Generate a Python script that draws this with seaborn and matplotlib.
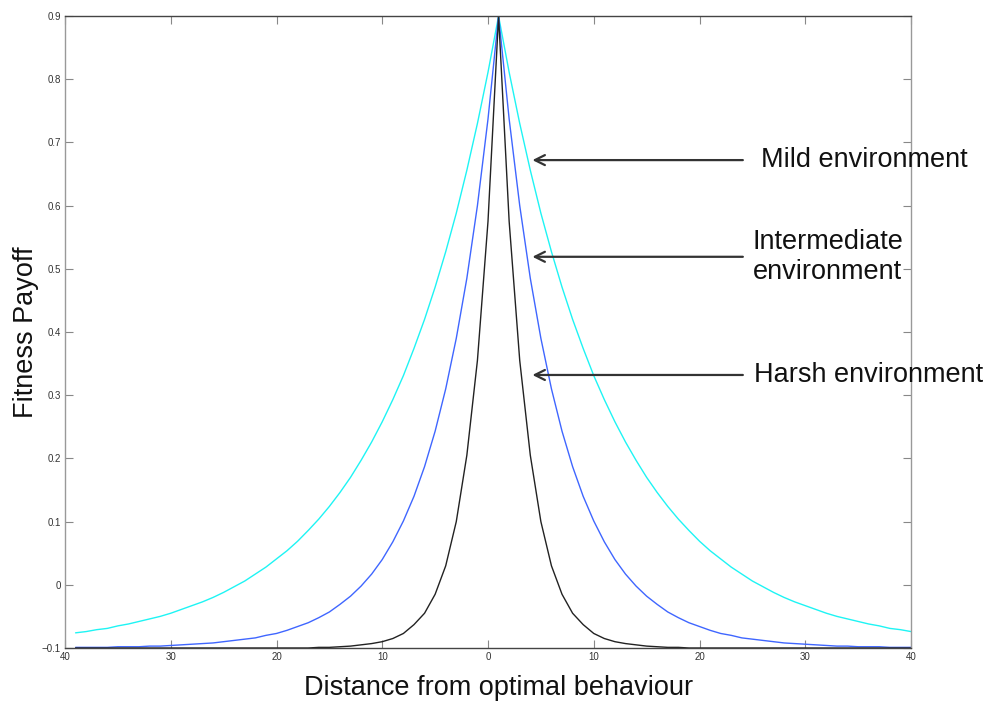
import matplotlib
matplotlib.use("Agg")
import matplotlib.pyplot as plt
import seaborn as sns
import pandas as pd

# ---- data (x = -39 ... 40, peak at x = 1) ----
x_vals = list(range(-39, 41))

mild = [-0.076, -0.074, -0.071, -0.069, -0.065, -0.062, -0.058, -0.054, -0.050, -0.045,
        -0.039, -0.033, -0.027, -0.020, -0.012, -0.003, 0.006, 0.017, 0.028, 0.041,
        0.054, 0.069, 0.086, 0.104, 0.124, 0.146, 0.170, 0.197, 0.226, 0.258,
        0.293, 0.331, 0.374, 0.420, 0.471, 0.527, 0.588, 0.656, 0.730, 0.811,
        0.900,
        0.811, 0.730, 0.656, 0.588, 0.527, 0.471, 0.420, 0.374, 0.331, 0.293,
        0.258, 0.226, 0.197, 0.170, 0.146, 0.124, 0.104, 0.086, 0.069, 0.054,
        0.041, 0.028, 0.017, 0.006, -0.003, -0.012, -0.020, -0.027, -0.033, -0.039,
        -0.045, -0.050, -0.054, -0.058, -0.062, -0.065, -0.069, -0.071, -0.074]

intermediate = [-0.099, -0.099, -0.099, -0.099, -0.098, -0.098, -0.098, -0.097, -0.097, -0.096,
                -0.095, -0.094, -0.093, -0.092, -0.090, -0.088, -0.086, -0.084, -0.080, -0.077,
                -0.072, -0.066, -0.060, -0.052, -0.043, -0.031, -0.018, -0.002, 0.017, 0.040,
                0.068, 0.101, 0.140, 0.187, 0.243, 0.310, 0.390, 0.485, 0.600, 0.737,
                0.900,
                0.737, 0.600, 0.485, 0.390, 0.310, 0.243, 0.187, 0.140, 0.101, 0.068,
                0.040, 0.017, -0.002, -0.018, -0.031, -0.043, -0.052, -0.060, -0.066, -0.072,
                -0.077, -0.080, -0.084, -0.086, -0.088, -0.090, -0.092, -0.093, -0.094, -0.095,
                -0.096, -0.097, -0.097, -0.098, -0.098, -0.098, -0.099, -0.099, -0.099]

harsh = [-0.100, -0.100, -0.100, -0.100, -0.100, -0.100, -0.100, -0.100, -0.100, -0.100,
         -0.100, -0.100, -0.100, -0.100, -0.100, -0.100, -0.100, -0.100, -0.100, -0.100,
         -0.100, -0.100, -0.100, -0.099, -0.099, -0.098, -0.097, -0.095, -0.093, -0.090,
         -0.085, -0.077, -0.063, -0.045, -0.015, 0.030, 0.100, 0.205, 0.355, 0.575,
         0.900,
         0.575, 0.355, 0.205, 0.100, 0.030, -0.015, -0.045, -0.063, -0.077, -0.085,
         -0.090, -0.093, -0.095, -0.097, -0.098, -0.099, -0.099, -0.100, -0.100, -0.100,
         -0.100, -0.100, -0.100, -0.100, -0.100, -0.100, -0.100, -0.100, -0.100, -0.100,
         -0.100, -0.100, -0.100, -0.100, -0.100, -0.100, -0.100, -0.100, -0.100]

x_ticks = [-40, -30, -20, -10, 0, 10, 20, 30, 40]
x_tick_labels = ["40", "30", "20", "10", "0", "10", "20", "30", "40"]
y_ticks = [-0.1, 0, 0.1, 0.2, 0.3, 0.4, 0.5, 0.6, 0.7, 0.8, 0.9]
y_tick_labels = ["\u22120.1", "0", "0.1", "0.2", "0.3", "0.4", "0.5", "0.6", "0.7", "0.8", "0.9"]

annotations = ["Mild environment", "Intermediate\nenvironment", "Harsh environment"]
arrow_y = [0.672, 0.519, 0.332]

# ---- plotting ----
sns.set_style("white")
plt.rcParams["font.family"] = ["Liberation Sans", "DejaVu Sans"]

fig = plt.figure(figsize=(9.89, 7.02), dpi=100)
ax = fig.add_axes([65 / 989, 1 - 648 / 702, (911 - 65) / 989, (648 - 16) / 702])

df = pd.DataFrame({"x": x_vals, "Mild": mild, "Intermediate": intermediate, "Harsh": harsh})
sns.lineplot(data=df, x="x", y="Mild", color="#1EF4F4", linewidth=1.0, ax=ax)
sns.lineplot(data=df, x="x", y="Intermediate", color="#3F66FF", linewidth=1.0, ax=ax)
sns.lineplot(data=df, x="x", y="Harsh", color="#222222", linewidth=1.0, ax=ax)

ax.set_xlim(-40, 40)
ax.set_ylim(-0.1, 0.9)
ax.set_xticks(x_ticks)
ax.set_xticklabels(x_tick_labels)
ax.set_yticks(y_ticks)
ax.set_yticklabels(y_tick_labels)
ax.tick_params(direction="in", length=6, width=0.8, color="#888888",
               labelsize=7, labelcolor="#333333", top=True, right=True,
               bottom=True, left=True, pad=3)

for side in ["left", "right"]:
    ax.spines[side].set_color("#999999")
    ax.spines[side].set_linewidth(1.0)
for side in ["top", "bottom"]:
    ax.spines[side].set_color("#444444")
    ax.spines[side].set_linewidth(1.0)

ax.set_xlabel("Distance from optimal behaviour", fontsize=19.5, color="#111111")
ax.xaxis.set_label_coords(0.512, -0.042, transform=ax.transAxes)
ax.xaxis.label.set_va("top")
ax.set_ylabel("Fitness Payoff", fontsize=19.5, color="#111111")
ax.yaxis.set_label_coords(-0.046, 0.5, transform=ax.transAxes)
ax.yaxis.label.set_va("center")

text_x = [25.8, 25.0, 25.2]
for label, yv, tx in zip(annotations, arrow_y, text_x):
    ax.annotate("", xy=(4.2, yv), xytext=(24.1, yv),
                arrowprops=dict(arrowstyle="->", color="#333333", lw=1.6,
                                mutation_scale=18, shrinkA=0, shrinkB=0))
    ax.text(tx, yv, label, fontsize=19.5, color="#111111", ha="left", va="center",
            linespacing=1.2, clip_on=False)

fig.savefig("out.png", dpi=100)
